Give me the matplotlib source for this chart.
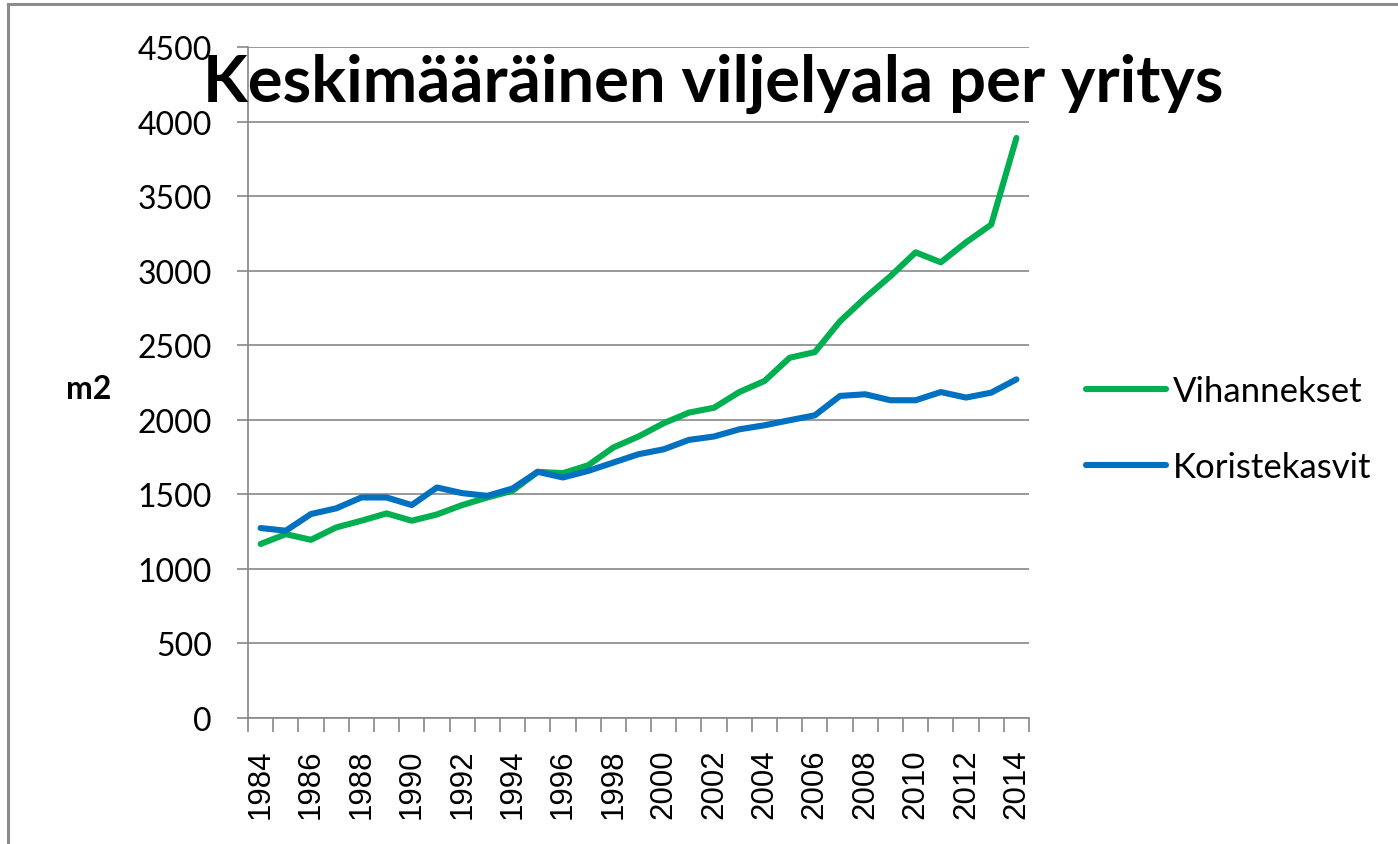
import matplotlib
matplotlib.use("Agg")
import matplotlib.pyplot as plt
from matplotlib.lines import Line2D

# data
years = list(range(1984, 2015))
vihannekset = [1167, 1233, 1195, 1278, 1323, 1372, 1323, 1365, 1428, 1479,
               1524, 1651, 1642, 1695, 1814, 1888, 1977, 2048, 2081, 2186,
               2260, 2416, 2454, 2661, 2818, 2963, 3123, 3056, 3190, 3309,
               3890]
koristekasvit = [1274, 1256, 1368, 1406, 1479, 1479, 1428, 1546, 1508, 1490,
                 1539, 1651, 1613, 1657, 1713, 1769, 1802, 1865, 1888, 1936,
                 1963, 1997, 2030, 2160, 2171, 2131, 2131, 2186, 2149, 2182,
                 2271]
series_names = ["Vihannekset", "Koristekasvit"]
yticks = list(range(0, 4501, 500))
title = "Keskimääräinen viljelyala per yritys"
ylabel = "m2"

GREEN = "#00B050"
BLUE = "#0070C0"
GRID = "#878787"

W, H = 1398, 845
fig = plt.figure(figsize=(W / 100, H / 100), dpi=100)
ax = fig.add_axes([248 / W, 1 - 719 / H, (1029 - 248) / W, (719 - 48) / H])

pos = list(range(len(years)))
ax.plot(pos, vihannekset, color=GREEN, lw=4.4, solid_joinstyle="round",
        solid_capstyle="round", label=series_names[0])
ax.plot(pos, koristekasvit, color=BLUE, lw=4.4, solid_joinstyle="round",
        solid_capstyle="round", label=series_names[1])

ax.set_xlim(-0.5, len(years) - 0.5)
ax.set_ylim(0, 4500)
ax.set_yticks(yticks)
ax.set_yticklabels([str(v) for v in yticks], fontfamily="Lato", fontsize=23)
ax.grid(axis="y", color=GRID, lw=1.2)
ax.set_axisbelow(True)

# labels on every second year, tick marks between categories
ax.set_xticks(pos[::2])
ax.set_xticklabels([str(y) for y in years[::2]], rotation=90,
                   fontfamily="Liberation Sans", fontsize=22.5)
ax.set_xticks([p - 0.5 for p in pos] + [pos[-1] + 0.5], minor=True)
ax.tick_params(axis="x", which="major", length=0, pad=22)
ax.tick_params(axis="x", which="minor", length=10, width=1.2, color=GRID)
ax.tick_params(axis="y", length=8, width=1.2, color=GRID, pad=18)

for s in ["top", "right"]:
    ax.spines[s].set_visible(False)
for s in ["left", "bottom"]:
    ax.spines[s].set_color(GRID)
    ax.spines[s].set_linewidth(1.2)

fig.text(89 / W, 1 - 390 / H, ylabel, fontfamily="Lato", fontweight="bold",
         fontsize=23, ha="center", va="center")

fig.text(713 / W, 1 - 102 / H, title, fontfamily="Lato", fontweight="bold",
         fontsize=47, ha="center", va="baseline")

handles = [Line2D([], [], color=GREEN, lw=4.4, solid_capstyle="round"),
           Line2D([], [], color=BLUE, lw=4.4, solid_capstyle="round")]
fig.legend(handles, series_names, loc="center left",
           bbox_to_anchor=(1086 / W, 1 - 430 / H), frameon=False,
           prop={"family": "Lato", "size": 25}, handlelength=2.3,
           handletextpad=0.2, labelspacing=1.25, borderaxespad=0,
           borderpad=0)

# grey frame on the top and left edges, as in the source image
fig.add_artist(Line2D([8 / W, 1], [1 - 5 / H, 1 - 5 / H], color="#8c8c8c",
                      lw=2.2, transform=fig.transFigure))
fig.add_artist(Line2D([8 / W, 8 / W], [0, 1 - 5 / H], color="#8c8c8c",
                      lw=2.2, transform=fig.transFigure))

fig.savefig("out.png", dpi=100)
